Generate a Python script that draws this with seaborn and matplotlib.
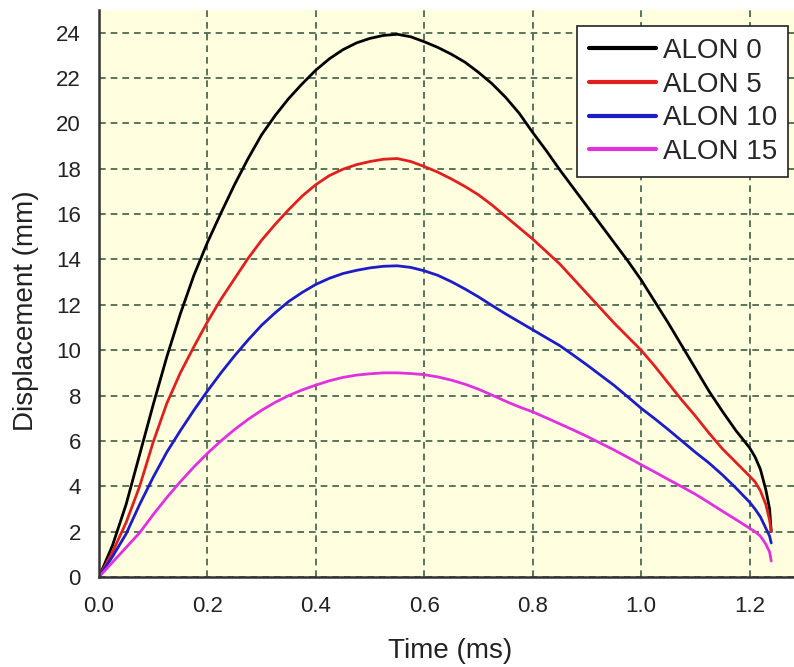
import numpy as np
import pandas as pd
import matplotlib
matplotlib.use("Agg")
import matplotlib.pyplot as plt
import seaborn as sns

time_ms = [0.0, 0.025, 0.05, 0.075, 0.1, 0.125, 0.15, 0.175, 0.2, 0.225, 0.25, 0.275,
           0.3, 0.325, 0.35, 0.375, 0.4, 0.425, 0.45, 0.475, 0.5, 0.525, 0.55, 0.575,
           0.6, 0.625, 0.65, 0.675, 0.7, 0.725, 0.75, 0.775, 0.8, 0.825, 0.85, 0.875,
           0.9, 0.925, 0.95, 0.975, 1.0, 1.025, 1.05, 1.075, 1.1, 1.125, 1.15, 1.175,
           1.2, 1.21, 1.22, 1.23, 1.237, 1.24]
alon0 = [0.0, 1.4, 3.2, 5.4, 7.6, 9.7, 11.6, 13.3, 14.75, 16.05, 17.3, 18.45,
         19.5, 20.35, 21.1, 21.75, 22.35, 22.85, 23.25, 23.55, 23.75, 23.88, 23.93, 23.82,
         23.6, 23.35, 23.05, 22.7, 22.25, 21.75, 21.15, 20.45, 19.6, 18.8, 17.95, 17.15,
         16.35, 15.55, 14.75, 13.95, 13.1, 12.15, 11.2, 10.2, 9.2, 8.2, 7.3, 6.45,
         5.7, 5.3, 4.75, 3.85, 3.0, 2.0]
alon5 = [0.0, 1.1, 2.4, 4.0, 5.95, 7.65, 9.0, 10.15, 11.25, 12.25, 13.15, 14.05,
         14.85, 15.55, 16.2, 16.8, 17.3, 17.7, 17.98, 18.18, 18.32, 18.42, 18.45, 18.32,
         18.1, 17.85, 17.55, 17.22, 16.85, 16.4, 15.9, 15.4, 14.9, 14.35, 13.8, 13.15,
         12.5, 11.85, 11.2, 10.6, 10.0, 9.3, 8.55, 7.8, 7.1, 6.35, 5.65, 5.05,
         4.45, 4.2, 3.8, 3.2, 2.5, 2.0]
alon10 = [0.0, 0.9, 1.9, 3.2, 4.4, 5.5, 6.45, 7.35, 8.2, 9.0, 9.75, 10.45,
          11.1, 11.65, 12.15, 12.55, 12.9, 13.17, 13.38, 13.52, 13.63, 13.7, 13.72, 13.65,
          13.5, 13.3, 13.02, 12.7, 12.35, 11.97, 11.6, 11.25, 10.9, 10.55, 10.2, 9.78,
          9.35, 8.9, 8.45, 7.95, 7.44, 6.98, 6.5, 6.0, 5.5, 5.03, 4.5, 3.92,
          3.3, 3.0, 2.65, 2.15, 1.8, 1.5]
alon15 = [0.0, 0.65, 1.3, 1.95, 2.75, 3.5, 4.2, 4.85, 5.45, 6.0, 6.5, 6.95,
          7.35, 7.7, 8.0, 8.25, 8.46, 8.65, 8.8, 8.9, 8.96, 9.0, 9.0, 8.97,
          8.92, 8.82, 8.68, 8.5, 8.28, 8.02, 7.75, 7.5, 7.28, 7.02, 6.75, 6.48,
          6.2, 5.9, 5.6, 5.28, 4.95, 4.63, 4.3, 3.98, 3.65, 3.28, 2.9, 2.53,
          2.15, 2.0, 1.8, 1.45, 1.1, 0.7]
series_names = ["ALON 0", "ALON 5", "ALON 10", "ALON 15"]
series_colors = ["#000000", "#e0201e", "#1c1cc8", "#e030e0"]
x_ticks = [0.0, 0.2, 0.4, 0.6, 0.8, 1.0, 1.2]
y_ticks = list(range(0, 25, 2))

frames = []
for name, vals in zip(series_names, [alon0, alon5, alon10, alon15]):
    frames.append(pd.DataFrame({"Time (ms)": time_ms, "Displacement (mm)": vals,
                                "Series": name}))
df = pd.concat(frames, ignore_index=True)

sns.set_style("white")
plt.rcParams["font.family"] = ["Liberation Sans", "DejaVu Sans"]

fig = plt.figure(figsize=(7.94, 6.67), dpi=100)
ax = fig.add_axes([0.1247, 0.135, 0.8753, 0.85])
ax.set_facecolor("#ffffe0")

sns.lineplot(data=df, x="Time (ms)", y="Displacement (mm)", hue="Series",
             palette=dict(zip(series_names, series_colors)), hue_order=series_names,
             linewidth=2.0, ax=ax, sort=False)

ax.set_xlim(0, 1.282)
ax.set_ylim(0, 25)
ax.set_xticks(x_ticks)
ax.set_xticklabels([f"{v:.1f}" for v in x_ticks])
ax.set_yticks(y_ticks)
ax.grid(True, color="#3d5e45", linestyle=(0, (4, 3)), linewidth=1.2)
ax.set_axisbelow(True)

for side in ["top", "right"]:
    ax.spines[side].set_visible(False)
for side in ["left", "bottom"]:
    ax.spines[side].set_color("#333333")
    ax.spines[side].set_linewidth(1.8)
ax.tick_params(direction="inout", length=12, width=1.5, color="#333333",
               labelsize=16, labelcolor="#222222")
ax.tick_params(axis="x", pad=8)
ax.tick_params(axis="y", pad=7)
ax.set_xlabel("Time (ms)", fontsize=20, color="#222222")
ax.set_ylabel("Displacement (mm)", fontsize=20, color="#222222")
ax.xaxis.set_label_coords(0.505, -0.1076)
ax.yaxis.set_label_coords(-0.087, 0.469)

leg = ax.legend(loc="upper right", bbox_to_anchor=(0.992, 0.9715), fontsize=20,
                frameon=True, fancybox=False, edgecolor="#222222",
                handlelength=2.4, handletextpad=0.25, borderpad=0.42,
                labelspacing=0.28, borderaxespad=0.0)
leg.get_frame().set_linewidth(1.2)
leg.get_frame().set_facecolor("white")
leg.get_frame().set_alpha(1.0)
for line in leg.get_lines():
    line.set_linewidth(3)

fig.savefig("out.png", dpi=100, facecolor="white")
